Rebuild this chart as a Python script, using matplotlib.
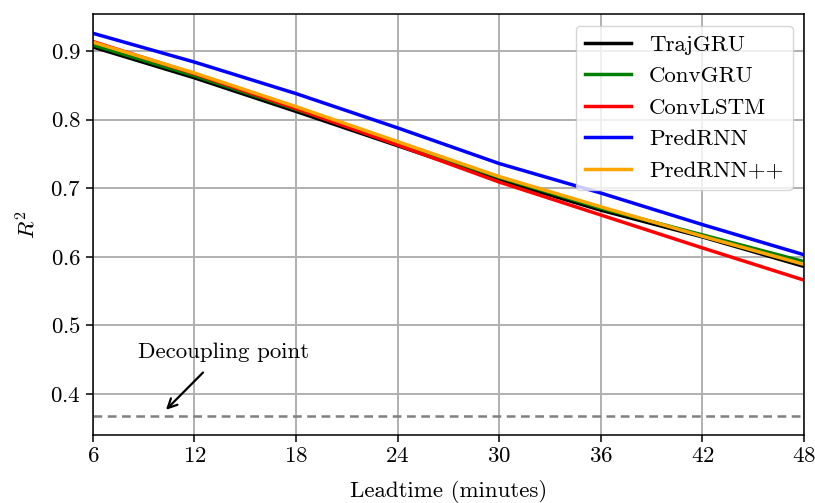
import matplotlib
matplotlib.use("Agg")
import matplotlib.pyplot as plt
import numpy as np

plt.rcParams['font.family'] = ['cmr10', 'DejaVu Serif']
plt.rcParams['mathtext.fontset'] = 'cm'
plt.rcParams['axes.formatter.use_mathtext'] = True
plt.rcParams['font.size'] = 16.5
plt.rcParams['axes.linewidth'] = 1.1
plt.rcParams['xtick.major.width'] = 1.1
plt.rcParams['ytick.major.width'] = 1.1
plt.rcParams['xtick.major.size'] = 5
plt.rcParams['ytick.major.size'] = 5

leadtime = [6, 12, 18, 24, 30, 36, 42, 48]
trajgru = [0.906, 0.861, 0.812, 0.762, 0.712, 0.668, 0.629, 0.586]
convgru = [0.909, 0.864, 0.815, 0.766, 0.716, 0.671, 0.632, 0.593]
convlstm = [0.914, 0.867, 0.816, 0.763, 0.709, 0.661, 0.613, 0.566]
predrnn = [0.926, 0.884, 0.838, 0.788, 0.736, 0.693, 0.647, 0.603]
predrnnpp = [0.913, 0.868, 0.819, 0.768, 0.717, 0.673, 0.630, 0.589]
decoupling = 1 / np.e

series = [("TrajGRU", trajgru, "black"),
          ("ConvGRU", convgru, "green"),
          ("ConvLSTM", convlstm, "red"),
          ("PredRNN", predrnn, "blue"),
          ("PredRNN++", predrnnpp, "orange")]

fig = plt.figure(figsize=(8.15, 5.03), dpi=100)
ax = fig.add_axes([0.114, 0.135, 0.8725, 0.837])

for name, vals, col in series:
    ax.plot(leadtime, vals, color=col, lw=2.5, label=name)

ax.axhline(decoupling, color='gray', ls='--', lw=1.8, dashes=(3.5, 2.2))
ax.annotate("Decoupling point", xy=(10.2, 0.374), xytext=(13.7, 0.461),
            ha='center', va='center',
            arrowprops=dict(arrowstyle='->', color='black', lw=1.6, shrinkA=8))

ax.set_xlim(6, 48)
ax.set_ylim(0.34, 0.954)
ax.set_xticks(leadtime)
ax.set_yticks([0.4, 0.5, 0.6, 0.7, 0.8, 0.9])
ax.grid(True, color='#b0b0b0', lw=1.4)
ax.set_xlabel("Leadtime (minutes)", labelpad=10)
ax.set_ylabel(r"$R^2$", labelpad=8)
ax.legend(loc='upper right', handlelength=2.0)

fig.savefig("out.png", dpi=100)
